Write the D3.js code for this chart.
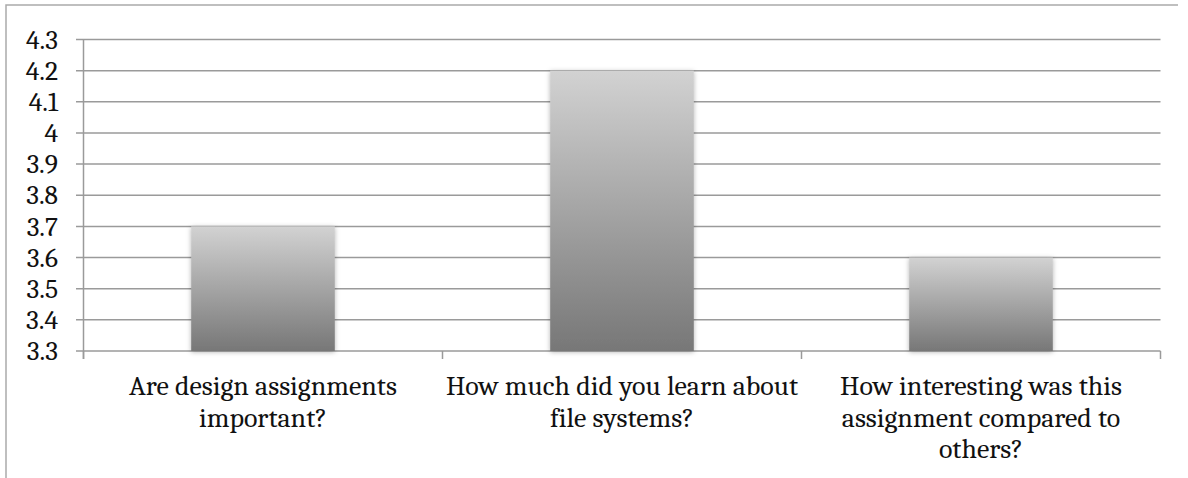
<!DOCTYPE html>
<html>
<head>
<meta charset="utf-8">
<script src="https://cdn.jsdelivr.net/npm/d3@7"></script>
<style>
  body { margin: 0; background: #fff; }
</style>
</head>
<body>
<div id="chart"></div>
<script>
// chart data
const categories = [
    "Are design assignments important?",
    "How much did you learn about file systems?",
    "How interesting was this assignment compared to others?"
];
const scores = [3.7, 4.2, 3.6];
const yTicks = [3.3, 3.4, 3.5, 3.6, 3.7, 3.8, 3.9, 4.0, 4.1, 4.2, 4.3];

const W = 1188, H = 478;
const margin = {top: 39.5, right: 27.5, bottom: 127, left: 83.5};
const width = W - margin.left - margin.right,
    height = H - margin.top - margin.bottom;
const fontFam = "Cambria, Caladea, 'Liberation Serif', serif";

const svg = d3.select("#chart").append("svg")
    .attr("width", W)
    .attr("height", H)
    .attr("font-family", fontFam);

// outer frame (only left + top edges visible)
svg.append("path")
    .attr("d", "M6,478 V5 H1178")
    .attr("fill", "none")
    .attr("stroke", "#aaa")
    .attr("stroke-width", 1.5);

const defs = svg.append("defs");
const grad = defs.append("linearGradient")
    .attr("id", "barGrad")
    .attr("x1", 0).attr("y1", 0).attr("x2", 0).attr("y2", 1);
grad.append("stop").attr("offset", "0%").attr("stop-color", "#d2d2d2");
grad.append("stop").attr("offset", "100%").attr("stop-color", "#777");

const shadow = defs.append("filter")
    .attr("id", "shadow")
    .attr("x", "-10%").attr("y", "-10%").attr("width", "120%").attr("height", "120%");
shadow.append("feDropShadow")
    .attr("dx", 0).attr("dy", 1)
    .attr("stdDeviation", 2.5)
    .attr("flood-color", "#000")
    .attr("flood-opacity", 0.3);

// match text widths of the original
let probe = svg.append("text").attr("font-size", 28).text("Are design assignments");
const labelSize = 28 * 268 / probe.node().getComputedTextLength();
probe.text("4.3");
const tickSize = 28 * 32 / probe.node().getComputedTextLength();
probe.remove();

const g = svg.append("g")
    .attr("transform", "translate(" + margin.left + "," + margin.top + ")");

const x = d3.scaleBand()
    .domain(categories)
    .range([0, width])
    .paddingInner(0.6)
    .paddingOuter(0.3);

const y = d3.scaleLinear()
    .domain([3.3, 4.3])
    .range([height, 0]);

// gridlines with tick stubs
g.append("g")
    .selectAll("line")
    .data(yTicks)
    .join("line")
    .attr("x1", -7.5)
    .attr("x2", width)
    .attr("y1", d => y(d))
    .attr("y2", d => y(d))
    .attr("stroke", "#9a9a9a")
    .attr("stroke-width", 1.5);

// y tick labels
g.append("g")
    .selectAll("text")
    .data(yTicks)
    .join("text")
    .attr("x", -25.5)
    .attr("y", d => y(d))
    .attr("dy", "0.33em")
    .attr("text-anchor", "end")
    .attr("fill", "#111")
    .attr("font-size", tickSize)
    .text(d => String(+d.toFixed(1)));

// left axis line
g.append("line")
    .attr("x1", 0).attr("x2", 0)
    .attr("y1", 0).attr("y2", height + 8)
    .attr("stroke", "#9a9a9a")
    .attr("stroke-width", 1.5);

// category dividers on x axis
const bounds = d3.range(categories.length + 1).map(i => i * width / categories.length);
g.append("g")
    .selectAll("line")
    .data(bounds)
    .join("line")
    .attr("x1", d => d).attr("x2", d => d)
    .attr("y1", height).attr("y2", height + 8)
    .attr("stroke", "#9a9a9a")
    .attr("stroke-width", 1.5);

// bars
g.append("g")
    .selectAll("rect")
    .data(scores)
    .join("rect")
    .attr("x", (d, i) => x(categories[i]))
    .attr("width", x.bandwidth())
    .attr("y", d => y(d))
    .attr("height", d => height - y(d))
    .attr("fill", "url(#barGrad)")
    .attr("filter", "url(#shadow)");

// category labels, wrapped to the band
const bandW = width / categories.length;
const labels = g.append("g")
    .selectAll("text")
    .data(categories)
    .join("text")
    .attr("x", (d, i) => (i + 0.5) * bandW)
    .attr("y", height + 44)
    .attr("text-anchor", "middle")
    .attr("fill", "#111")
    .attr("font-size", labelSize);

labels.each(function(d) {
    let text = d3.select(this);
    let words = d.split(" ");
    let line = [];
    let tspan = text.append("tspan").attr("x", text.attr("x")).attr("dy", 0);
    words.forEach(w => {
        line.push(w);
        tspan.text(line.join(" "));
        if (tspan.node().getComputedTextLength() > bandW - 6 && line.length > 1) {
            line.pop();
            tspan.text(line.join(" "));
            line = [w];
            tspan = text.append("tspan")
                .attr("x", text.attr("x"))
                .attr("dy", 31.5)
                .text(w);
        }
    });
});
</script>
</body>
</html>
